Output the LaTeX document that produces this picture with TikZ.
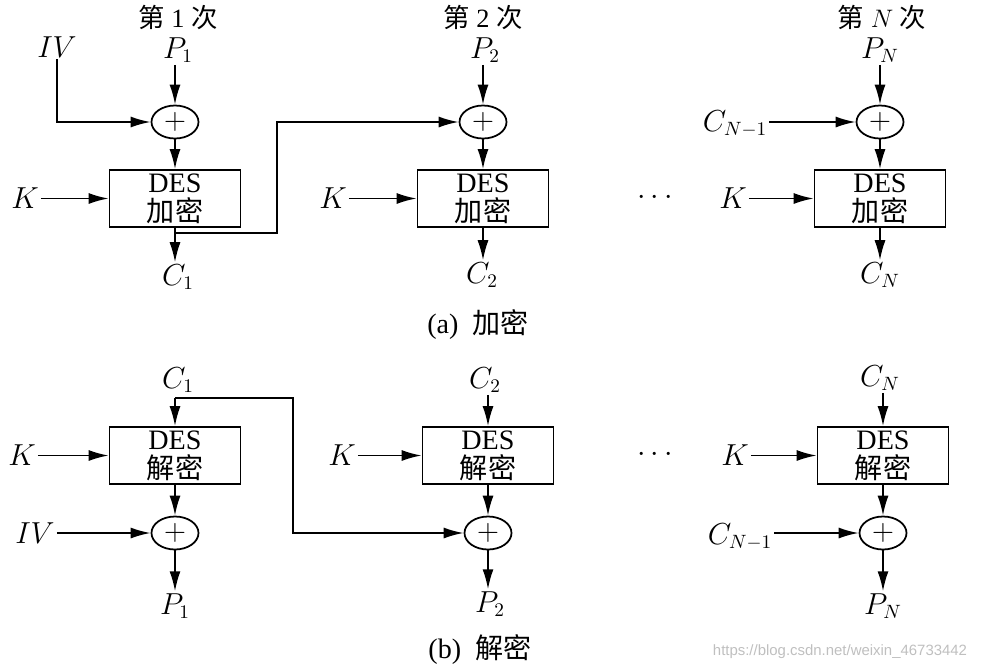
\documentclass[tikz,border=0pt]{standalone}
\usepackage{fontspec}
\setmainfont{Liberation Serif}
\newfontfamily\cjk{Noto Sans CJK SC}
\newfontfamily\markfont{Liberation Sans}
\usetikzlibrary{arrows.meta,shapes.geometric}

\tikzset{
  every node/.style={font=\fontsize{16}{18}\selectfont,inner sep=1pt},
  title/.style={font=\fontsize{15}{17}\selectfont,inner sep=0pt},
  desbox/.style={draw,line width=1pt,minimum width=26.2mm,minimum height=11.4mm,
    align=center,inner sep=0pt,font=\fontsize{16}{16.5}\selectfont},
  xorop/.style={draw,ellipse,line width=1pt,minimum width=9.4mm,minimum height=6.6mm,inner sep=0pt},
  arr/.style={line width=1pt,-{Latex[length=4mm,width=2.2mm]}},
  fb/.style={line width=1pt,-{Latex[length=4mm,width=2.2mm]}}
}

\begin{document}
\begin{tikzpicture}[x=0.2mm,y=-0.2mm]
    \useasboundingbox (0,0) rectangle (984,670);

    %% (a) encryption, round 1
    \node[title] (t1) at (178,17) {{\cjk 第} 1 {\cjk 次}};
    \node (p1) at (178,50) {$P_1$};
    \node (iv) at (57,47) {$IV$};
    \node[xorop] (x1) at (175,122) {$+$};
    \node[desbox] (e1) at (175,198.5) {DES\\{\cjk 加密}};
    \node (k1) at (25,198.5) {$K$};
    \node (c1) at (178,277) {$C_1$};
    \draw[arr] (x1 |- p1.south) -- (x1);
    \draw[arr] (iv.south) |- (x1.west);
    \draw[arr] (x1) -- (e1);
    \draw[arr] (k1) -- (e1.west);
    \draw[arr] (e1.south) -- (e1.south |- c1.north);

    %% (a) encryption, round 2
    \node[title] (t2) at (483,17) {{\cjk 第} 2 {\cjk 次}};
    \node (p2) at (485,50) {$P_2$};
    \node[xorop] (x2) at (483,122) {$+$};
    \node[desbox] (e2) at (483,198.5) {DES\\{\cjk 加密}};
    \node (k2) at (333,198.5) {$K$};
    \node (c2) at (482,275) {$C_2$};
    \draw[arr] (x2 |- p2.south) -- (x2);
    \draw[arr] (x2) -- (e2);
    \draw[arr] (k2) -- (e2.west);
    \draw[arr] (e2.south) -- (e2.south |- c2.north);
    \coordinate (f1) at (175,233);
    \draw[fb] (f1) -- ++(102,0) |- (x2.west);

    \node (dots1) at (655,198) {$\cdots$};

    %% (a) encryption, round N
    \node[title] (t3) at (882,17) {{\cjk 第} $N$ {\cjk 次}};
    \node (p3) at (880,50) {$P_N$};
    \node (cn1) at (735,124) {$C_{N-1}$};
    \node[xorop] (x3) at (880,122) {$+$};
    \node[desbox] (e3) at (880,198.5) {DES\\{\cjk 加密}};
    \node (k3) at (733,198.5) {$K$};
    \node (c3) at (880,275) {$C_N$};
    \draw[arr] (x3 |- p3.south) -- (x3);
    \draw[arr] (cn1.east |- x3) -- (x3);
    \draw[arr] (x3) -- (e3);
    \draw[arr] (k3) -- (e3.west);
    \draw[arr] (e3.south) -- (e3.south |- c3.north);

    \node (capa) at (478,325) {(a)~~{\cjk 加密}};

    %% (b) decryption, round 1
    \node (dc1) at (178,380) {$C_1$};
    \node[desbox] (d1) at (175,455.5) {DES\\{\cjk 解密}};
    \node (dk1) at (22,455.5) {$K$};
    \node[xorop] (y1) at (175,533) {$+$};
    \node (div) at (35,533) {$IV$};
    \node (dp1) at (175,606) {$P_1$};
    \coordinate (g1) at (175,398);
    \draw[arr] (g1) -- (d1.north);
    \draw[arr] (dk1) -- (d1.west);
    \draw[arr] (d1) -- (y1);
    \draw[arr] (div) -- (y1);
    \draw[arr] (y1) -- (dp1);

    %% (b) decryption, round 2
    \node (dc2) at (485,380) {$C_2$};
    \node[desbox] (d2) at (488,455.5) {DES\\{\cjk 解密}};
    \node (dk2) at (342,455.5) {$K$};
    \node[xorop] (y2) at (488,533) {$+$};
    \node (dp2) at (490,604) {$P_2$};
    \draw[arr] (d2.north |- dc2.south) -- (d2.north);
    \draw[arr] (dk2) -- (d2.west);
    \draw[arr] (d2) -- (y2);
    \draw[arr] (y2) -- (y2 |- dp2.north);
    \draw[fb] (g1) -- ++(118,0) |- (y2.west);

    \node (dots2) at (655,455) {$\cdots$};

    %% (b) decryption, round N
    \node (dc3) at (880,378) {$C_N$};
    \node[desbox] (d3) at (883,455.5) {DES\\{\cjk 解密}};
    \node (dk3) at (735,455.5) {$K$};
    \node[xorop] (y3) at (883,533) {$+$};
    \node (dcn1) at (740,537) {$C_{N-1}$};
    \node (dp3) at (883,606) {$P_N$};
    \draw[arr] (d3.north |- dc3.south) -- (d3.north);
    \draw[arr] (dk3) -- (d3.west);
    \draw[arr] (d3) -- (y3);
    \draw[arr] (dcn1.east |- y3) -- (y3);
    \draw[arr] (y3) -- (dp3);

    \node (capb) at (480,650) {(b)~~{\cjk 解密}};

    \node[font=\markfont\fontsize{8.5}{10}\selectfont,text=black!25] (mark) at (840,652)
        {https://blog.csdn.net/weixin\_46733442};
\end{tikzpicture}
\end{document}
